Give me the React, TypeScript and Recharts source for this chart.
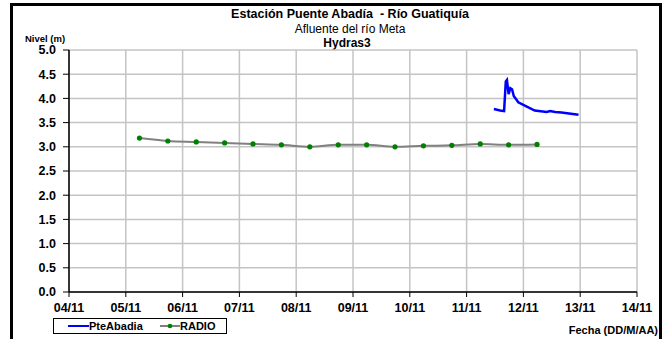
import React from 'react'
import { LineChart, Line, XAxis, YAxis, CartesianGrid } from 'recharts'

// Nivel del río, estación Puente Abadía (día de noviembre como número)
const radioFecha = [5.24, 5.74, 6.24, 6.74, 7.24, 7.74, 8.24, 8.74, 9.24, 9.74, 10.24, 10.74, 11.24, 11.74, 12.24]
const radioNivel = [3.18, 3.12, 3.10, 3.08, 3.06, 3.04, 3.00, 3.04, 3.04, 3.00, 3.02, 3.03, 3.06, 3.04, 3.05]

const pteFecha = [11.48, 11.59, 11.66, 11.69, 11.71, 11.74, 11.77, 11.80, 11.83, 11.91, 12.06, 12.20, 12.41, 12.47, 12.56, 12.67, 12.97]
const pteNivel = [3.78, 3.75, 3.74, 4.35, 4.38, 4.09, 4.21, 4.19, 4.05, 3.92, 3.83, 3.75, 3.72, 3.74, 3.72, 3.71, 3.66]

const xTicks = [4, 5, 6, 7, 8, 9, 10, 11, 12, 13, 14]
const yTicks = [0, 0.5, 1, 1.5, 2, 2.5, 3, 3.5, 4, 4.5, 5]

const radioData = radioFecha.map((x, i) => ({ x, radio: radioNivel[i] }))
const pteData = pteFecha.map((x, i) => ({ x, pte: pteNivel[i] }))

const FONT = '"Liberation Sans", Arial, sans-serif'

const GreenDot = (props: any) => {
  const { cx, cy } = props
  return <circle cx={cx} cy={cy} r={2.6} fill="#008000" />
}

export default function App() {
  return (
    <div style={{ position: 'fixed', left: 0, top: 0, width: 671, height: 339, overflow: 'hidden', background: '#fff', fontFamily: FONT }}>
      <div style={{ position: 'absolute', left: 10, top: 3, width: 646, height: 400, border: '3px solid #000' }} />

      <div style={{ position: 'absolute', left: 0, width: 700, top: 7, textAlign: 'center', fontSize: 12.5, fontWeight: 'bold', lineHeight: '14px' }}>
        Estación Puente Abadía&nbsp; - Río Guatiquía
      </div>
      <div style={{ position: 'absolute', left: 0, width: 700, top: 21.5, textAlign: 'center', fontSize: 12, lineHeight: '14px' }}>
        Afluente del río Meta
      </div>
      <div style={{ position: 'absolute', left: 0, width: 694, top: 35.5, textAlign: 'center', fontSize: 12, fontWeight: 'bold', lineHeight: '14px' }}>
        Hydras3
      </div>
      <div style={{ position: 'absolute', left: 25, top: 33, fontSize: 9.5, fontWeight: 'bold', lineHeight: '11px' }}>
        Nivel (m)
      </div>

      <div style={{ position: 'absolute', left: 0, top: 0 }}>
        <LineChart width={671} height={339} margin={{ top: 50, right: 34, bottom: 0, left: 0 }}>
          <CartesianGrid stroke="#c4c4c4" strokeWidth={1.5} />
          <XAxis
            type="number"
            dataKey="x"
            domain={[4, 14]}
            ticks={xTicks}
            allowDuplicatedCategory={false}
            height={47}
            tickSize={5}
            tickMargin={6}
            axisLine={{ stroke: '#000', strokeWidth: 1.5 }}
            tickLine={{ stroke: '#000' }}
            tick={{ fill: '#000', fontSize: 12.5, fontWeight: 'bold', fontFamily: FONT }}
            tickFormatter={(d: number) => String(d).padStart(2, '0') + '/11'}
          />
          <YAxis
            type="number"
            domain={[0, 5]}
            ticks={yTicks}
            width={69}
            tickSize={6}
            tickMargin={7}
            axisLine={{ stroke: '#000', strokeWidth: 1.5 }}
            tickLine={{ stroke: '#000' }}
            tick={{ fill: '#000', fontSize: 12.5, fontWeight: 'bold', fontFamily: FONT }}
            tickFormatter={(v: number) => v.toFixed(1)}
          />
          <Line
            data={radioData}
            dataKey="radio"
            type="monotone"
            stroke="#808080"
            strokeWidth={2}
            dot={<GreenDot />}
            activeDot={false}
            isAnimationActive={false}
          />
          <Line
            data={pteData}
            dataKey="pte"
            type="linear"
            stroke="#0000ff"
            strokeWidth={2.5}
            dot={false}
            activeDot={false}
            isAnimationActive={false}
          />
        </LineChart>
      </div>

      <div style={{ position: 'absolute', left: 53, top: 318, width: 174, height: 16, border: '1px solid #000', boxSizing: 'border-box', fontSize: 11, fontWeight: 'bold', lineHeight: '14px' }}>
        <svg width={172} height={14} style={{ position: 'absolute', left: 0, top: 0 }}>
          <line x1={14} x2={35} y1={7} y2={7} stroke="#0000ff" strokeWidth={2} />
          <line x1={106} x2={126} y1={7} y2={7} stroke="#808080" strokeWidth={2} />
          <circle cx={116} cy={7} r={2.3} fill="#008000" />
        </svg>
        <span style={{ position: 'absolute', left: 35, top: 0 }}>PteAbadia</span>
        <span style={{ position: 'absolute', left: 126, top: 0 }}>RADIO</span>
      </div>

      <div style={{ position: 'absolute', right: 13, top: 325, fontSize: 11, fontWeight: 'bold', lineHeight: '11px' }}>
        Fecha (DD/M/AA)
      </div>
    </div>
  )
}
